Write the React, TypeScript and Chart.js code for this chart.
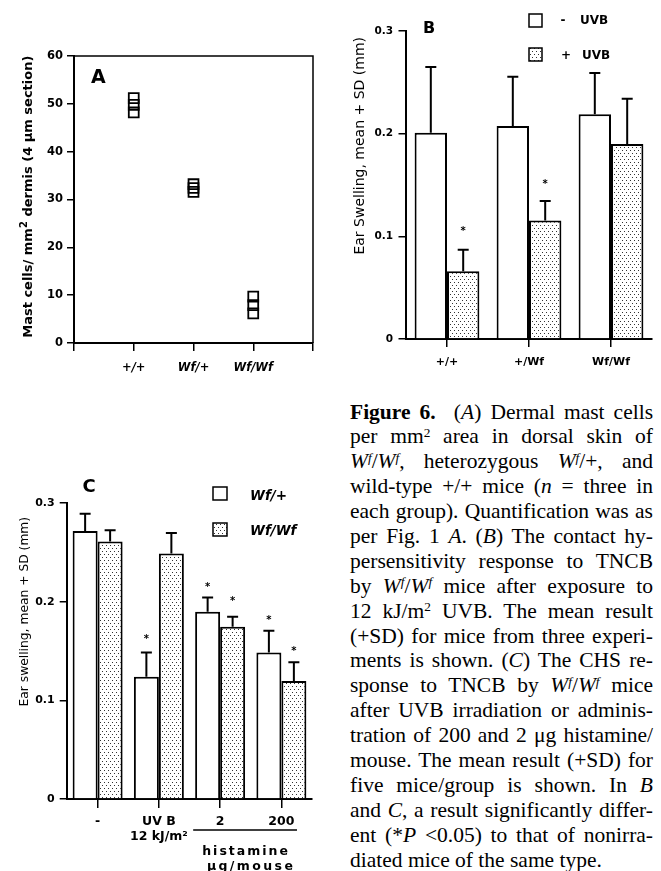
import React, { useEffect, useRef } from 'react';
import { Chart, registerables } from 'chart.js';
Chart.register(...registerables);

const FAM = '"DejaVu Sans"';
Chart.defaults.font.family = FAM;
Chart.defaults.color = '#000';

// ---------- Panel A data ----------
const aGroups = ['+/+', 'Wf/+', 'Wf/Wf'];
const aPlusPlus = [51.2, 49.8, 48.2];
const aWfPlus = [33.2, 32.4, 31.6];
const aWfWf = [9.7, 7.9, 6.2];

// ---------- Panel B data ----------
const bGroups = ['+/+', '+/Wf', 'Wf/Wf'];
const bMinusUVB = [0.201, 0.2075, 0.219];
const bMinusUVBSD = [0.064, 0.048, 0.040];
const bPlusUVB = [0.066, 0.1155, 0.19];
const bPlusUVBSD = [0.021, 0.019, 0.044];
const bStarsMinus = [null, null, null];
const bStarsPlus = [0.108, 0.154, null];

// ---------- Panel C data ----------
const cGroups = [['-'], ['UV B', '12 kJ/m²'], ['2'], ['200']];
const cWfHet = [0.2717, 0.124, 0.1898, 0.1486];
const cWfHetSD = [0.0175, 0.0246, 0.0144, 0.0219];
const cWfWf = [0.2609, 0.2487, 0.1746, 0.1197];
const cWfWfSD = [0.0114, 0.0209, 0.0101, 0.0188];
const cStarsHet = [null, 0.1645, 0.2174, 0.184];
const cStarsWfWf = [null, null, 0.2032, 0.1527];

type Seg = { t: string; f: string; dy?: number; ls?: number };
function rich(ctx: CanvasRenderingContext2D, segs: Seg[], x: number, y: number, align: 'left' | 'center' = 'left', rot = 0) {
  ctx.save();
  ctx.translate(x, y);
  if (rot) ctx.rotate(rot);
  ctx.fillStyle = '#000';
  ctx.textAlign = 'left';
  ctx.textBaseline = 'alphabetic';
  let total = 0;
  const widths = segs.map((s) => {
    ctx.font = s.f;
    (ctx as any).letterSpacing = (s.ls || 0) + 'px';
    const w = ctx.measureText(s.t).width;
    total += w;
    return w;
  });
  let cx = align === 'center' ? -total / 2 : 0;
  segs.forEach((s, i) => {
    ctx.font = s.f;
    (ctx as any).letterSpacing = (s.ls || 0) + 'px';
    ctx.fillText(s.t, cx, s.dy || 0);
    cx += widths[i];
  });
  ctx.restore();
}

function makePattern(ctx: CanvasRenderingContext2D) {
  const c = document.createElement('canvas');
  c.width = 4;
  c.height = 6;
  const g = c.getContext('2d')!;
  g.fillStyle = '#fff';
  g.fillRect(0, 0, 4, 6);
  g.fillStyle = '#333';
  g.fillRect(0, 0, 1, 1);
  g.fillRect(2, 3, 1, 1);
  return ctx.createPattern(c, 'repeat')!;
}

function drawErrorsAndStars(chart: any, sds: number[][], stars: (number | null)[][]) {
  const ctx = chart.ctx as CanvasRenderingContext2D;
  const ys = chart.scales.y;
  ctx.save();
  ctx.strokeStyle = '#000';
  ctx.lineWidth = 2;
  chart.data.datasets.forEach((ds: any, i: number) => {
    const meta = chart.getDatasetMeta(i);
    meta.data.forEach((el: any, j: number) => {
      const v = ds.data[j];
      const top = ys.getPixelForValue(v + sds[i][j]);
      ctx.beginPath();
      ctx.moveTo(el.x, el.y);
      ctx.lineTo(el.x, top);
      ctx.moveTo(el.x - 5.5, top);
      ctx.lineTo(el.x + 5.5, top);
      ctx.stroke();
      const s = stars[i][j];
      if (s != null) {
        ctx.font = `bold 10px ${FAM}`;
        ctx.fillStyle = '#000';
        ctx.textAlign = 'center';
        ctx.textBaseline = 'alphabetic';
        ctx.fillText('*', el.x, ys.getPixelForValue(s) + 5.7);
      }
    });
  });
  ctx.restore();
}

const axisGrid = (len: number) => ({ drawOnChartArea: false, tickLength: len, color: '#000', lineWidth: 1.5 });
const axisBorder = { color: '#000', width: 2 };

function PanelA() {
  const ref = useRef<HTMLCanvasElement>(null);
  useEffect(() => {
    const cv = ref.current!;
    const pts = [aPlusPlus, aWfPlus, aWfWf].flatMap((arr, i) => arr.map((v) => ({ x: i + 1, y: v })));
    const chart = new Chart(cv, {
      type: 'scatter',
      data: {
        datasets: [
          {
            data: pts,
            pointStyle: 'rect',
            pointRadius: 7,
            pointHoverRadius: 7,
            pointBorderColor: '#000',
            pointBorderWidth: 1.8,
            pointBackgroundColor: 'rgba(0,0,0,0)',
          },
        ],
      },
      options: {
        animation: false,
        responsive: false,
        devicePixelRatio: 1,
        layout: { padding: { top: 16, right: 17, left: 0, bottom: 0 } },
        plugins: { legend: { display: false }, tooltip: { enabled: false } },
        scales: {
          x: {
            type: 'linear',
            min: 0,
            max: 4,
            afterFit: (s: any) => { s.height = 37; },
            ticks: {
              stepSize: 1,
              autoSkip: false,
              maxRotation: 0,
              callback: (v: any) => aGroups[Number(v) - 1] ?? '',
              font: { family: FAM, size: 11.5, weight: 'bold', style: 'italic' },
              color: '#000',
              padding: 10,
            },
            grid: axisGrid(8),
            border: axisBorder,
          },
          y: {
            min: 0,
            max: 60,
            afterFit: (s: any) => { s.width = 74; },
            ticks: { stepSize: 10, font: { family: FAM, size: 11.5, weight: 'bold' }, color: '#000', padding: 4 },
            grid: axisGrid(7),
            border: axisBorder,
          },
        },
      } as any,
      plugins: [
        {
          id: 'panelA',
          afterDraw(c: any) {
            const ctx = c.ctx as CanvasRenderingContext2D;
            const a = c.chartArea;
            ctx.save();
            ctx.strokeStyle = '#000';
            ctx.lineWidth = 1.5;
            ctx.beginPath();
            ctx.moveTo(a.left, a.top);
            ctx.lineTo(a.right, a.top);
            ctx.lineTo(a.right, a.bottom);
            ctx.stroke();
            ctx.restore();
            rich(ctx, [{ t: 'A', f: `bold 19px ${FAM}` }], 98.3, 43.3, 'center');
            rich(
              ctx,
              [
                { t: 'Mast cells/ mm', f: `bold 13px ${FAM}` },
                { t: '2', f: `bold 10px ${FAM}`, dy: -5 },
                { t: ' dermis (4 μm section)', f: `bold 13px ${FAM}` },
              ],
              32.3,
              156.7,
              'center',
              -Math.PI / 2
            );
          },
        },
      ],
    });
    return () => chart.destroy();
  }, []);
  return <canvas ref={ref} width={330} height={340} style={{ position: 'absolute', left: 0, top: 40, width: 330, height: 340 }} />;
}

function PanelB() {
  const ref = useRef<HTMLCanvasElement>(null);
  useEffect(() => {
    const cv = ref.current!;
    const pat = makePattern(cv.getContext('2d')!);
    const chart = new Chart(cv, {
      type: 'bar',
      data: {
        labels: bGroups,
        datasets: [
          { label: '- UVB', data: bMinusUVB, backgroundColor: '#fff', borderColor: '#000', borderWidth: 2, barPercentage: 1, categoryPercentage: 0.79 },
          { label: '+ UVB', data: bPlusUVB, backgroundColor: pat, borderColor: '#000', borderWidth: 2, barPercentage: 1, categoryPercentage: 0.79 },
        ],
      },
      options: {
        animation: false,
        responsive: false,
        devicePixelRatio: 1,
        layout: { padding: { top: 31, right: 9, left: 0, bottom: 0 } },
        plugins: { legend: { display: false }, tooltip: { enabled: false } },
        scales: {
          x: {
            z: 1,
            afterFit: (s: any) => { s.height = 41; },
            ticks: { autoSkip: false, maxRotation: 0, font: { family: FAM, size: 11, weight: 'bold' }, color: '#000', padding: 8.4 },
            grid: { ...axisGrid(8), offset: false },
            border: axisBorder,
          },
          y: {
            min: 0,
            max: 0.3,
            afterFit: (s: any) => { s.width = 76; },
            ticks: {
              stepSize: 0.1,
              font: { family: FAM, size: 10.5, weight: 'bold' },
              color: '#000',
              padding: 5.5,
              callback: (v: any) => (Number(v) === 0 ? '0' : Number(v).toFixed(1)),
            },
            grid: axisGrid(7.5),
            border: axisBorder,
          },
        },
      } as any,
      plugins: [
        {
          id: 'panelB',
          afterDatasetsDraw(c: any) {
            drawErrorsAndStars(c, [bMinusUVBSD, bPlusUVBSD], [bStarsMinus, bStarsPlus]);
          },
          afterDraw(c: any) {
            const ctx = c.ctx as CanvasRenderingContext2D;
            rich(ctx, [{ t: 'B', f: `bold 16px ${FAM}` }], 99, 33.3, 'center');
            rich(ctx, [{ t: 'Ear Swelling, mean + SD (mm)', f: `14px ${FAM}` }], 34.3, 145.8, 'center', -Math.PI / 2);
            ctx.save();
            ctx.strokeStyle = '#000';
            ctx.lineWidth = 1.5;
            ctx.fillStyle = '#fff';
            ctx.fillRect(199, 14, 13, 13);
            ctx.strokeRect(199, 14, 13, 13);
            ctx.fillStyle = pat;
            ctx.fillRect(199, 48, 13, 13);
            ctx.strokeRect(199, 48, 13, 13);
            ctx.restore();
            rich(ctx, [{ t: '-', f: `bold 12px ${FAM}` }], 233, 24.4, 'center');
            rich(ctx, [{ t: 'UVB', f: `bold 12px ${FAM}` }], 250, 24.4);
            rich(ctx, [{ t: '+', f: `bold 12px ${FAM}` }], 236, 58.7, 'center');
            rich(ctx, [{ t: 'UVB', f: `bold 12px ${FAM}` }], 252, 58.7);
          },
        },
      ],
    });
    return () => chart.destroy();
  }, []);
  return <canvas ref={ref} width={331} height={380} style={{ position: 'absolute', left: 330, top: 0, width: 331, height: 380 }} />;
}

function PanelC() {
  const ref = useRef<HTMLCanvasElement>(null);
  useEffect(() => {
    const cv = ref.current!;
    const pat = makePattern(cv.getContext('2d')!);
    const chart = new Chart(cv, {
      type: 'bar',
      data: {
        labels: cGroups as any,
        datasets: [
          { label: 'Wf/+', data: cWfHet, backgroundColor: '#fff', borderColor: '#000', borderWidth: 2, barPercentage: 1, categoryPercentage: 0.816 },
          { label: 'Wf/Wf', data: cWfWf, backgroundColor: pat, borderColor: '#000', borderWidth: 2, barPercentage: 1, categoryPercentage: 0.816 },
        ],
      },
      options: {
        animation: false,
        responsive: false,
        devicePixelRatio: 1,
        layout: { padding: { top: 33, right: 18, left: 0, bottom: 0 } },
        plugins: { legend: { display: false }, tooltip: { enabled: false } },
        scales: {
          x: {
            z: 1,
            afterFit: (s: any) => { s.height = 72; },
            ticks: { autoSkip: false, maxRotation: 0, font: { family: FAM, size: 12.5, weight: 'bold', lineHeight: 1.2 }, color: '#000', padding: 6.5 },
            grid: { ...axisGrid(9), offset: false },
            border: axisBorder,
          },
          y: {
            min: 0,
            max: 0.3,
            afterFit: (s: any) => { s.width = 67; },
            ticks: {
              stepSize: 0.1,
              font: { family: FAM, size: 11, weight: 'bold' },
              color: '#000',
              padding: 5,
              callback: (v: any) => (Number(v) === 0 ? '0' : Number(v).toFixed(1)),
            },
            grid: axisGrid(7.3),
            border: axisBorder,
          },
        },
      } as any,
      plugins: [
        {
          id: 'panelC',
          afterDatasetsDraw(c: any) {
            drawErrorsAndStars(c, [cWfHetSD, cWfWfSD], [cStarsHet, cStarsWfWf]);
          },
          afterDraw(c: any) {
            const ctx = c.ctx as CanvasRenderingContext2D;
            const xs = c.scales.x;
            rich(ctx, [{ t: 'C', f: `bold 18px ${FAM}` }], 89, 21.7, 'center');
            rich(ctx, [{ t: 'Ear swelling, mean + SD (mm)', f: `12.3px ${FAM}` }], 27.8, 141.7, 'center', -Math.PI / 2);
            // legend
            ctx.save();
            ctx.strokeStyle = '#000';
            ctx.lineWidth = 1.5;
            ctx.fillStyle = '#fff';
            ctx.fillRect(213, 17, 14, 13);
            ctx.strokeRect(213, 17, 14, 13);
            ctx.fillStyle = pat;
            ctx.fillRect(213, 53, 14, 13);
            ctx.strokeRect(213, 53, 14, 13);
            ctx.restore();
            rich(ctx, [{ t: 'Wf/+', f: `italic bold 13.5px ${FAM}` }], 250, 29.9);
            rich(ctx, [{ t: 'Wf/Wf', f: `italic bold 13.5px ${FAM}` }], 250, 64.9);
            // histamine bracket
            const cw = xs.getPixelForValue(1) - xs.getPixelForValue(0);
            const l = xs.getPixelForValue(2) - 0.44 * cw;
            const r = xs.getPixelForValue(3) + 0.255 * cw;
            ctx.save();
            ctx.strokeStyle = '#000';
            ctx.lineWidth = 1.5;
            ctx.beginPath();
            ctx.moveTo(l, 360);
            ctx.lineTo(r, 360);
            ctx.stroke();
            ctx.restore();
            const mid = (l + r) / 2;
            rich(ctx, [{ t: 'histamine', f: `bold 12.5px ${FAM}`, ls: 2 }], mid + 1, 385, 'center');
            rich(ctx, [{ t: 'μg/mouse', f: `bold 12.5px ${FAM}`, ls: 2.4 }], mid + 6, 400, 'center');
          },
        },
      ],
    });
    return () => chart.destroy();
  }, []);
  return <canvas ref={ref} width={330} height={401} style={{ position: 'absolute', left: 0, top: 470, width: 330, height: 401 }} />;
}

const supS: React.CSSProperties = { fontSize: '0.62em', position: 'relative', top: '-0.48em', verticalAlign: 'baseline', lineHeight: 0 };
const Wf = () => (
  <>
    <i>W</i>
    <sup style={supS}>
      <i>f</i>
    </sup>
  </>
);

const captionLines: React.ReactNode[] = [
  <><b>Figure 6.</b>{'\u00a0 '}(<i>A</i>) Dermal mast cells</>,
  <>per mm<sup style={supS}>2</sup> area in dorsal skin of</>,
  <><Wf />/<Wf />, heterozygous <Wf />/+, and</>,
  <>wild-type +/+ mice (<i>n</i> = three in</>,
  <>each group). Quantification was as</>,
  <>per Fig. 1 <i>A</i>. (<i>B</i>) The contact hy-</>,
  <>persensitivity response to TNCB</>,
  <>by <Wf />/<Wf /> mice after exposure to</>,
  <>12 kJ/m<sup style={supS}>2</sup> UVB. The mean result</>,
  <>(+SD) for mice from three experi-</>,
  <>ments is shown. (<i>C</i>) The CHS re-</>,
  <>sponse to TNCB by <Wf />/<Wf /> mice</>,
  <>after UVB irradiation or adminis-</>,
  <>tration of 200 and 2 μg histamine/</>,
  <>mouse. The mean result (+SD) for</>,
  <>five mice/group is shown. In <i>B</i></>,
  <>and <i>C</i>, a result significantly differ-</>,
  <>ent (*<i>P</i> {'<'}0.05) to that of nonirra-</>,
  <>diated mice of the same type.</>,
];

function Caption() {
  return (
    <div
      style={{
        position: 'absolute',
        left: 350,
        top: 399.5,
        width: 303,
        fontFamily: '"Liberation Serif", serif',
        fontSize: 21.5,
        lineHeight: '24.9px',
        color: '#000',
      }}
    >
      {captionLines.map((ln, i) => (
        <div
          key={i}
          style={{
            textAlign: 'justify',
            textAlignLast: i === captionLines.length - 1 ? 'left' : 'justify',
            height: 24.9,
          }}
        >
          {ln}
        </div>
      ))}
    </div>
  );
}

export default function App() {
  return (
    <div style={{ position: 'absolute', left: 0, top: 0, width: 661, height: 871, background: '#fff', overflow: 'hidden' }}>
      <PanelA />
      <PanelB />
      <PanelC />
      <Caption />
    </div>
  );
}
